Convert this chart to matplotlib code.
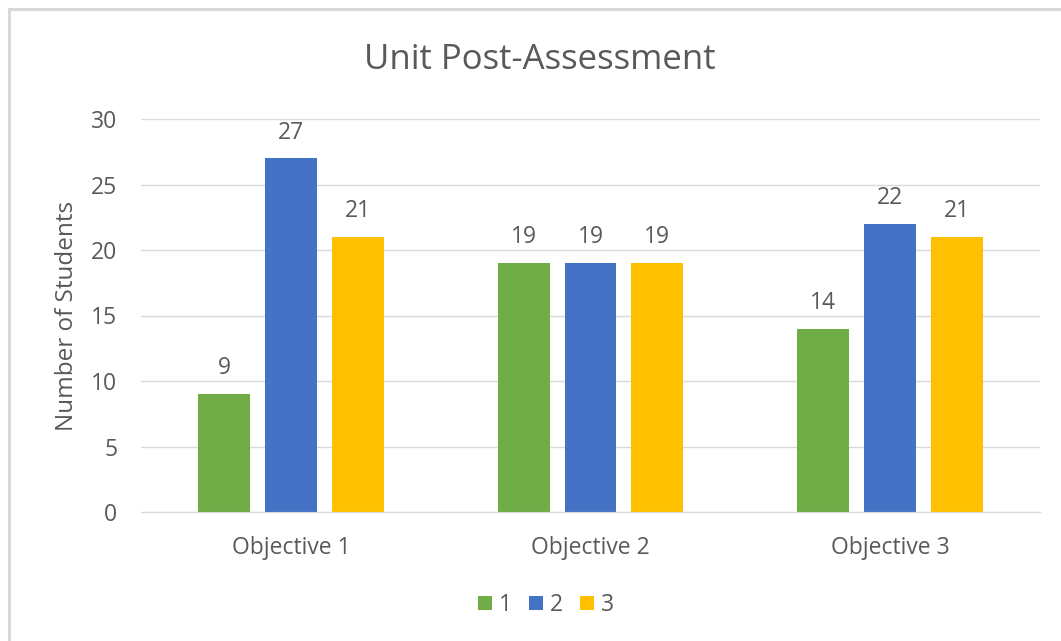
import matplotlib
matplotlib.use("Agg")
import matplotlib.pyplot as plt
from matplotlib.patches import Rectangle
import numpy as np

plt.rcParams['font.family'] = ['Open Sans', 'DejaVu Sans']

categories = ["Objective 1", "Objective 2", "Objective 3"]
series_names = ["1", "2", "3"]
series_1 = [9, 19, 14]
series_2 = [27, 19, 22]
series_3 = [21, 19, 21]
yticks = [0, 5, 10, 15, 20, 25, 30]

colors = ["#70AD47", "#4472C4", "#FFC000"]
text_gray = "#595959"

fig = plt.figure(figsize=(10.61, 6.41), dpi=100)
fig.patch.set_facecolor("white")

# light frame around the chart area
fig.patches.append(Rectangle((9 / 1061, -0.05), 1.2, 1 - 9 / 641 + 0.05,
                             transform=fig.transFigure, fill=False,
                             edgecolor="#D9D9D9", linewidth=2.2))

ax = fig.add_axes([141 / 1061, 1 - 512 / 641, (1040 - 141) / 1061, (512 - 119) / 641])

x = np.arange(len(categories))
width = 0.173
step = 0.223
for i, (vals, name) in enumerate(zip([series_1, series_2, series_3], series_names)):
    bars = ax.bar(x + (i - 1) * step, vals, width, color=colors[i], label=name, zorder=3)
    for b, v in zip(bars, vals):
        ax.text(b.get_x() + b.get_width() / 2, v + 1.05, str(v), ha="center", va="bottom",
                fontsize=16.5, color=text_gray)

ax.set_xlim(-0.5, 2.5)
ax.set_ylim(0, 30)
ax.set_yticks(yticks)
ax.yaxis.grid(True, color="#D9D9D9", linewidth=1, zorder=0)
ax.set_xticks(x)
ax.set_xticklabels(categories)
ax.tick_params(axis="both", length=0, labelsize=16.5, colors=text_gray)
ax.tick_params(axis="y", pad=17)
ax.tick_params(axis="x", pad=17)
for s in ["top", "right", "left"]:
    ax.spines[s].set_visible(False)
ax.spines["bottom"].set_color("#D9D9D9")
ax.spines["bottom"].set_zorder(4)

ax.set_ylabel("Number of Students", fontsize=17.5, color=text_gray)
ax.yaxis.set_label_coords((79 - 141) / 899, 0.5)
fig.text(540 / 1061, 1 - 60 / 641, "Unit Post-Assessment", ha="center", va="center",
         fontsize=25, color=text_gray)

leg = fig.legend(loc="center", bbox_to_anchor=(546 / 1061, 1 - 605 / 641), ncol=3,
                 frameon=False, fontsize=16.5, handlelength=0.6, handleheight=0.6,
                 handletextpad=0.3, columnspacing=0.75)
for t in leg.get_texts():
    t.set_color(text_gray)

fig.savefig("out.png", dpi=100)
